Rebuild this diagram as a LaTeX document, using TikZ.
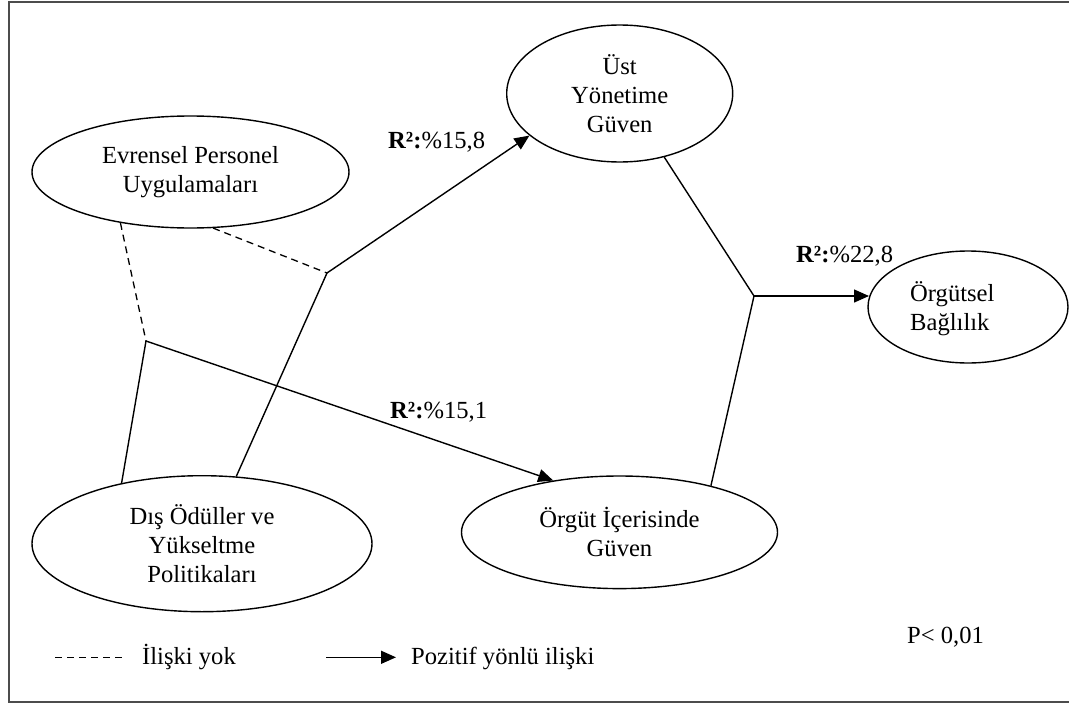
\documentclass[tikz,border=0pt]{standalone}
\usepackage{fontspec}
\setmainfont{Liberation Serif}
\usetikzlibrary{shapes.geometric,arrows.meta}
\begin{document}
\begin{tikzpicture}[x=1pt,y=-1pt,
  every node/.style={font=\fontsize{24.6}{29}\selectfont, inner sep=0pt},
  construct/.style={ellipse, draw, line width=1.4pt, align=center},
  link/.style={line width=1.4pt},
  nolink/.style={line width=1.3pt, dash pattern=on 7pt off 5pt},
  arr/.style={link, -{Triangle[length=15pt,width=13pt]}},
  lbl/.style={anchor=base west},
  frame/.style={line width=2pt, black!70}]

% page size and outer frame (open on the right)
\useasboundingbox (0,0) rectangle (1069,704);
\draw[frame] (1069,2) -- (9,2) -- (9,702) -- (1069,702);

% constructs
\node[construct, minimum width=317pt, minimum height=112pt] (evr) at (190.5,172)
  {Evrensel Personel\\Uygulamaları};
\node[construct, minimum width=340pt, minimum height=136pt] (dis) at (202,543.7)
  {Dış Ödüller ve\\Yükseltme\\Politikaları};
\node[construct, minimum width=226pt, minimum height=137pt] (ust) at (619.7,93.5)
  {Üst\\Yönetime\\Güven};
\node[construct, minimum width=316pt, minimum height=112.6pt] (ic) at (619.5,532.3)
  {Örgüt İçerisinde\\Güven};
\node[construct, minimum width=200pt, minimum height=112pt] (org) at (968,307) {};
\node[align=left, anchor=west] (orgt) at (910,309) {Örgütsel\\Bağlılık};

% junction points
\coordinate (j1) at (146,341);
\coordinate (j2) at (754,296);
\coordinate (j3) at (327,273);

% no relation
\draw[nolink] (evr.216) -- (j1);
\draw[nolink] (evr.292) -- (j3);

% positive relations
\draw[link] (dis.143) -- (j1);
\draw[link] (dis.63) -- (j3);
\draw[arr] (j1) -- (ic.142.5);
\draw[arr] (j3) -- (ust.205);
\draw[link] (ust.305) -- (j2);
\draw[link] (ic.27) -- (j2);
\draw[arr] (j2) -- (j2 -| org.174);

% explained variance
\node[lbl] (r1) at (388,148) {\textbf{R²:}\%15,8};
\node[lbl] (r2) at (390,418) {\textbf{R²:}\%15,1};
\node[lbl] (r3) at (796,262) {\textbf{R²:}\%22,8};
\node[lbl] (p) at (907,643) {P< 0,01};

% legend
\coordinate (d1) at (55,657.3);
\coordinate (d2) at (124,657.3);
\draw[nolink] (d1) -- (d2);
\node[lbl] (dtxt) at (142,664) {İlişki yok};
\coordinate (a1) at (326,657.3);
\coordinate (a2) at (396,657.3);
\draw[arr] (a1) -- (a2);
\node[lbl] (atxt) at (411,664) {Pozitif yönlü ilişki};
\end{tikzpicture}
\end{document}
